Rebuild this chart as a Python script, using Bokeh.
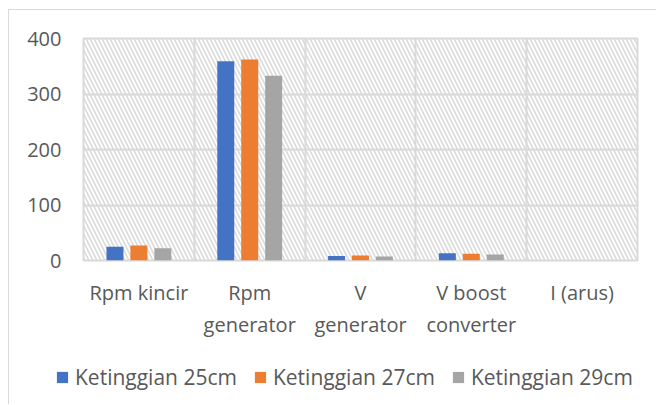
from bokeh.plotting import figure
from bokeh.layouts import column
from bokeh.models import Range1d, FixedTicker, BoxAnnotation, Legend, LegendItem
from bokeh.embed import file_html
from bokeh.resources import INLINE

categories = ["Rpm kincir", "Rpm\ngenerator", "V\ngenerator", "V boost\nconverter", "I (arus)"]
series_names = ["Ketinggian 25cm", "Ketinggian 27cm", "Ketinggian 29cm"]
h25 = [25, 359, 8, 13, 0.1]
h27 = [27, 362, 9, 12, 0.1]
h29 = [22, 333, 7, 11, 0.1]
colors = ["#4472C4", "#ED7D31", "#A5A5A5"]
y_ticks = [0, 100, 200, 300, 400]

FONT = "Open Sans"
TXT = "#595959"
GRID = "#d9d9d9"

p = figure(frame_width=554, frame_height=222, output_backend="svg", toolbar_location=None,
           x_range=Range1d(0, len(categories)), y_range=Range1d(0, 400),
           min_border_left=74, min_border_right=19, min_border_top=28, min_border_bottom=84)
p.frame_align = False
p.outline_line_color = GRID
p.outline_line_width = 2
p.background_fill_color = "white"
p.border_fill_color = "white"

p.add_layout(BoxAnnotation(fill_alpha=0, line_alpha=0, hatch_pattern="\\", hatch_color="#dadada",
                           hatch_scale=8, hatch_weight=1.6, level="underlay"))

p.xgrid.ticker = FixedTicker(ticks=list(range(len(categories) + 1)))
p.xgrid.grid_line_color = GRID
p.xgrid.grid_line_width = 2
p.ygrid.ticker = FixedTicker(ticks=y_ticks)
p.ygrid.grid_line_color = GRID
p.ygrid.grid_line_width = 2

offsets = [-0.216, 0.0, 0.216]
for vals, off, col in zip([h25, h27, h29], offsets, colors):
    xs = [i + 0.5 + off for i in range(len(categories))]
    p.vbar(x=xs, top=vals, bottom=0, width=0.153, fill_color=col, line_color=None)

# axes
p.yaxis.ticker = FixedTicker(ticks=y_ticks)
p.yaxis.axis_line_color = None
p.yaxis.major_tick_line_color = None
p.yaxis.minor_tick_line_color = None
p.yaxis.major_label_standoff = 16
p.yaxis.major_label_text_font = FONT
p.yaxis.major_label_text_font_size = "20px"
p.yaxis.major_label_text_color = TXT

p.xaxis.ticker = FixedTicker(ticks=[i + 0.5 for i in range(len(categories))])
p.xaxis.major_label_overrides = {i + 0.5: c for i, c in enumerate(categories)}
p.xaxis.axis_line_color = None
p.xaxis.major_tick_line_color = None
p.xaxis.minor_tick_line_color = None
p.xaxis.major_label_standoff = 12
p.xaxis.major_label_text_font = FONT
p.xaxis.major_label_text_font_size = "20px"
p.xaxis.major_label_text_color = TXT

# legend strip below the chart (swatch renderers sit outside its visible range)
lg = figure(width=647, height=60, output_backend="svg", toolbar_location=None,
            x_range=Range1d(0, 1), y_range=Range1d(0, 1),
            x_axis_location=None, y_axis_location=None,
            min_border_left=0, min_border_right=0, min_border_top=0, min_border_bottom=0)
lg.frame_align = False
lg.grid.visible = False
lg.outline_line_color = None
lg.background_fill_color = "white"
lg.border_fill_color = "white"
items = []
for name, col in zip(series_names, colors):
    r = lg.vbar(x=[5], top=[5], bottom=[4], width=0.1, fill_color=col, line_color=None)
    items.append(LegendItem(label=name, renderers=[r]))

legend = Legend(items=items, orientation="horizontal", location=(46, 13))
legend.label_text_font = FONT
legend.label_text_font_size = "21px"
legend.label_text_color = TXT
legend.glyph_width = 14
legend.glyph_height = 14
legend.label_standoff = 6
legend.spacing = 16
legend.padding = 0
legend.margin = 0
legend.border_line_color = None
legend.background_fill_alpha = 0
lg.add_layout(legend, "center")

layout = column(p, lg, spacing=0, margin=(9, 0, 0, 8),
                styles={"border-top": "1.5px solid #d9d9d9", "border-left": "1.5px solid #d9d9d9"})

open("out.html", "w").write(file_html(layout, INLINE))
